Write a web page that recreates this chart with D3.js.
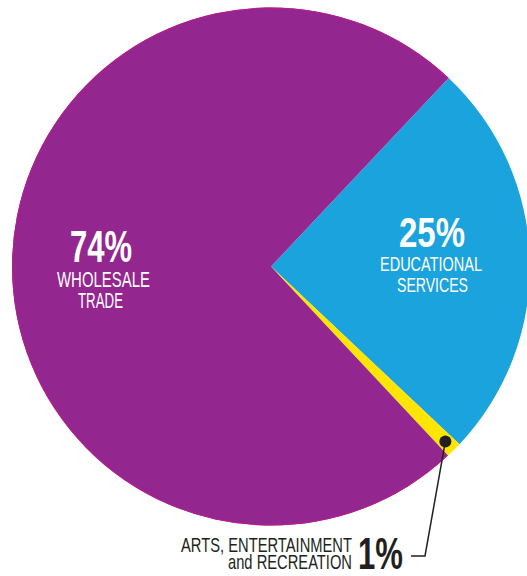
<!DOCTYPE html>
<html><head><meta charset="utf-8">
<script src="https://cdn.jsdelivr.net/npm/d3@7"></script>
<style>
html,body{margin:0;padding:0;background:#fff;}
text{font-family:"Liberation Sans",Arial,sans-serif;}
</style></head>
<body><svg id="c" width="527" height="576"></svg>
<script>
const categories = ["EDUCATIONAL SERVICES", "ARTS, ENTERTAINMENT and RECREATION", "WHOLESALE TRADE"];
const values = [25, 1, 74];
const colors = ["#1ba3dd", "#ffe500", "#93268f"];
const pctLabels = ["25%", "1%", "74%"];

const svg = d3.select("#c");
const cx = 271, cy = 266.5, R = 259;
const start = 43.3 * Math.PI / 180;
const pie = d3.pie().sort(null).value(d => d).startAngle(start).endAngle(start + 2 * Math.PI);
const arcs = pie(values);
const arc = d3.arc().innerRadius(0).outerRadius(R);
const g = svg.append("g").attr("transform", `translate(${cx},${cy})`);
g.selectAll("path").data(arcs).join("path")
  .attr("d", arc)
  .attr("fill", (d, i) => colors[i]);
g.append("path").attr("d", d3.arc().innerRadius(R - 1).outerRadius(R)(arcs[2])).attr("fill", "#b81f8c");

function txt(parent, x, y, s, size, width, opts = {}) {
  return parent.append("text").attr("x", x).attr("y", y)
    .attr("font-size", size)
    .attr("font-weight", opts.bold ? "bold" : "normal")
    .attr("text-anchor", opts.anchor || "middle")
    .attr("textLength", width).attr("lengthAdjust", "spacingAndGlyphs")
    .text(s);
}
const w = svg.append("g").attr("fill", "#fff");
txt(w, 101, 262, pctLabels[2], 44, 62, {bold: true});
txt(w, 103.5, 286.5, "WHOLESALE", 22, 93);
txt(w, 100.5, 307.5, "TRADE", 22, 45);
txt(w, 432, 247, pctLabels[0], 42, 66, {bold: true});
txt(w, 431, 271, "EDUCATIONAL", 21, 102);
txt(w, 432.5, 292, "SERVICES", 21, 71);

// leader for small slice
const a1 = arcs[1];
const mid = (a1.startAngle + a1.endAngle) / 2;
const dotR = R - 12;
const dx = cx + dotR * Math.sin(mid), dy = cy - dotR * Math.cos(mid);
svg.append("path")
  .attr("d", `M${dx},${dy} L425,556 L411,556`)
  .attr("fill", "none").attr("stroke", "#231f20").attr("stroke-width", 1.5);
svg.append("circle").attr("cx", dx).attr("cy", dy).attr("r", 6).attr("fill", "#231f20");

const k = svg.append("g").attr("fill", "#231f20");
txt(k, 403, 569, pctLabels[1], 45, 45, {bold: true, anchor: "end"});
txt(k, 352, 551.5, "ARTS, ENTERTAINMENT", 21, 171, {anchor: "end"});
txt(k, 352, 569, "and RECREATION", 21, 124, {anchor: "end"});
</script></body></html>
